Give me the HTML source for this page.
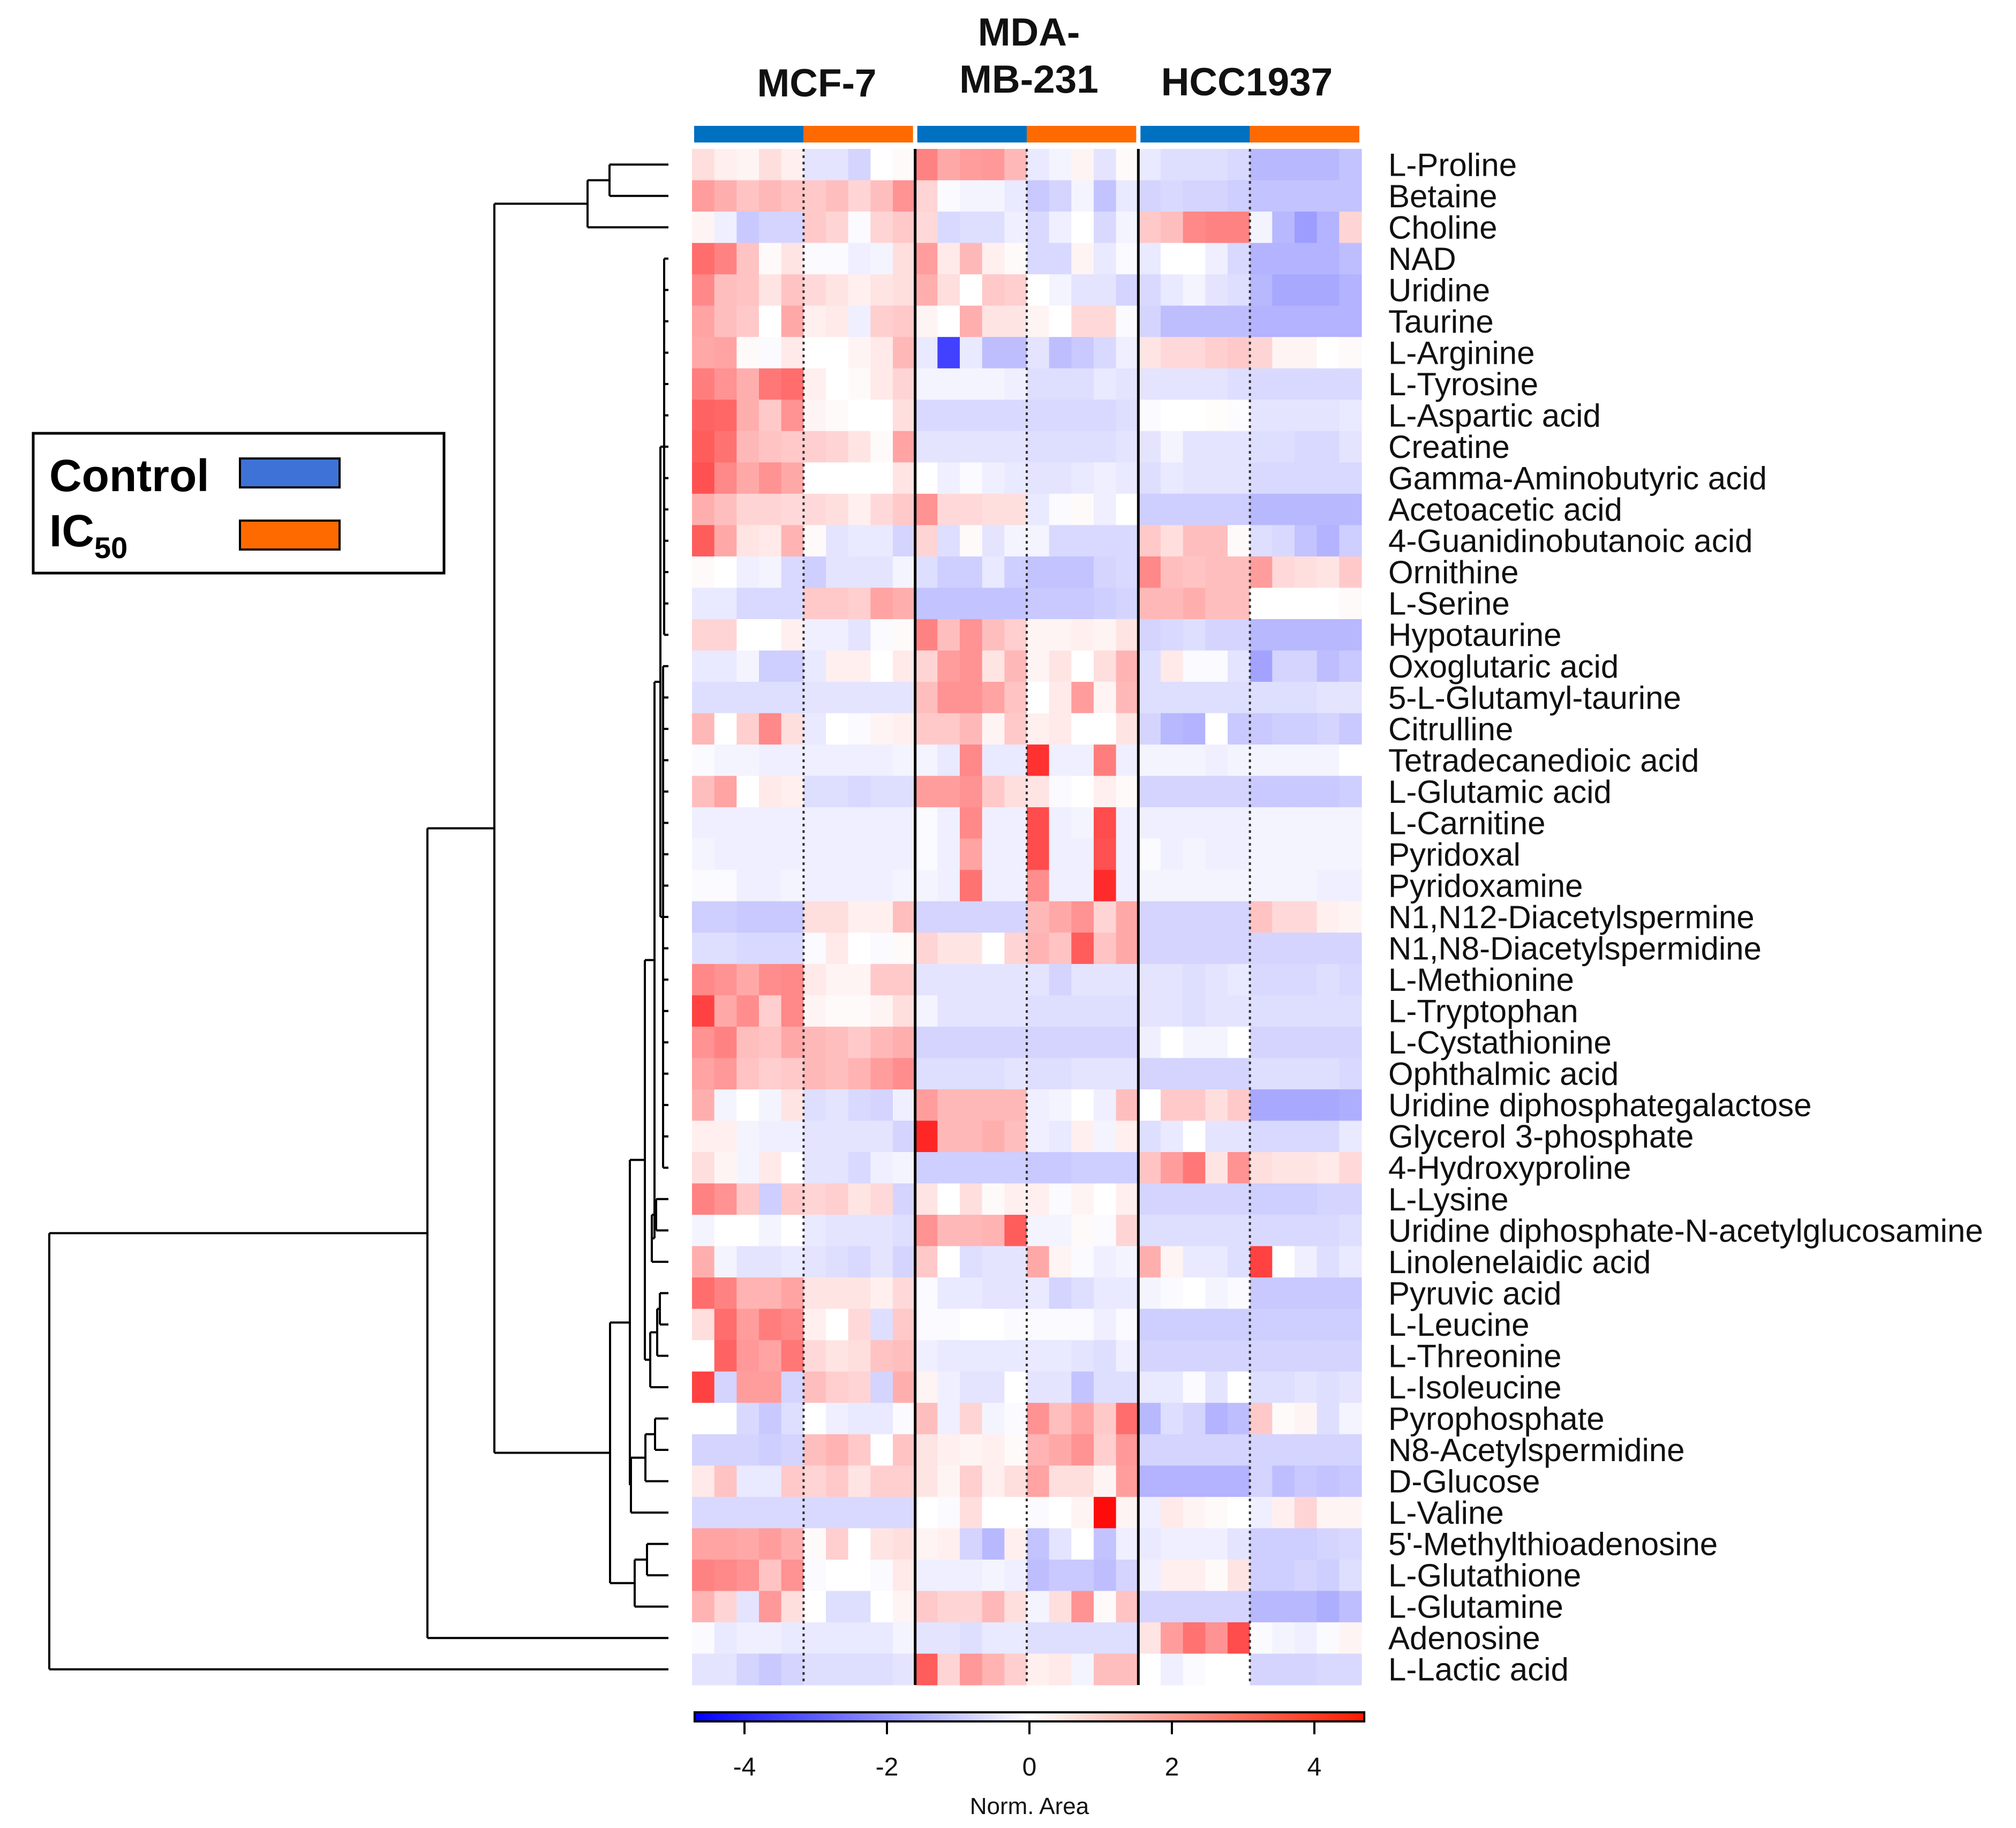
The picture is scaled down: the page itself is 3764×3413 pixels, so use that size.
<!DOCTYPE html>
<html><head><meta charset="utf-8"><style>
html,body{margin:0;padding:0;background:#fff;}
svg{display:block;font-family:"Liberation Sans",Arial,sans-serif;}
</style></head><body>
<svg id="chart" width="3764" height="3413" viewBox="0 0 3764 3413" xmlns="http://www.w3.org/2000/svg">
<rect width="3764" height="3413" fill="#fff"/>
<g id="titles" font-weight="bold" font-size="73" text-anchor="middle" fill="#111">
<text x="1525" y="180">MCF-7</text>
<text x="1921" y="85">MDA-</text>
<text x="1921" y="173">MB-231</text>
<text x="2328" y="178">HCC1937</text>
</g>
<g id="legend">
<rect x="62" y="809" width="767" height="261" fill="#fff" stroke="#000" stroke-width="5"/>
<text x="92" y="917" font-size="84" font-weight="bold" fill="#000">Control</text>
<rect x="448" y="856" width="186" height="54" fill="#3f72d6" stroke="#000" stroke-width="4"/>
<text x="92" y="1020" font-size="84" font-weight="bold" fill="#000">IC<tspan font-size="56" dy="22">50</tspan></text>
<rect x="448" y="972" width="186" height="54" fill="#ff6a00" stroke="#000" stroke-width="4"/>
</g>
<g id="groupbars"></g>
<g id="cells"></g>
<g id="seps"></g>
<g id="dendro" fill="none" stroke="#000" stroke-width="4"></g>
<g id="rowlabels" font-size="60" fill="#111"></g>
<g id="colorbar"></g>
</svg>
<script>
const rowNames = ["L-Proline","Betaine","Choline","NAD","Uridine","Taurine","L-Arginine","L-Tyrosine","L-Aspartic acid","Creatine","Gamma-Aminobutyric acid","Acetoacetic acid","4-Guanidinobutanoic acid","Ornithine","L-Serine","Hypotaurine","Oxoglutaric acid","5-L-Glutamyl-taurine","Citrulline","Tetradecanedioic acid","L-Glutamic acid","L-Carnitine","Pyridoxal","Pyridoxamine","N1,N12-Diacetylspermine","N1,N8-Diacetylspermidine","L-Methionine","L-Tryptophan","L-Cystathionine","Ophthalmic acid","Uridine diphosphategalactose","Glycerol 3-phosphate","4-Hydroxyproline","L-Lysine","Uridine diphosphate-N-acetylglucosamine","Linolenelaidic acid","Pyruvic acid","L-Leucine","L-Threonine","L-Isoleucine","Pyrophosphate","N8-Acetylspermidine","D-Glucose","L-Valine","5'-Methylthioadenosine","L-Glutathione","L-Glutamine","Adenosine","L-Lactic acid"];
const cellLines = ["MCF-7","MDA-MB-231","HCC1937"];
const groups = ["Control","IC50"];
const colorTicks = [-4,-2,0,2,4];
const values = [
[.6,.3,.2,.6,.3,-.5,-.5,-.8,0,.1,2.3,1.6,1.8,1.9,1.3,-.4,-.2,.2,-.5,.1,-.4,-.6,-.6,-.6,-.7,-1.3,-1.3,-1.3,-1.3,-1.1],
[1.8,1.5,1.1,1.3,1.1,1.0,1.2,.8,1.2,2.0,.8,-.1,-.2,-.2,-.4,-1.0,-.8,-.2,-1.1,-.4,-.8,-.7,-.8,-.8,-.9,-1.1,-1.1,-1.1,-1.1,-1.1],
[.2,-.3,-1.0,-.8,-.8,1.0,.8,-.1,.8,1.0,.7,-.7,-.6,-.6,-.3,-.7,-.3,0,-.7,-.2,1.0,1.2,2.2,2.3,2.3,-.2,-1.3,-1.8,-1.4,.8],
[2.7,2.3,1.1,.1,.5,-.1,-.1,-.3,-.2,.6,1.8,.4,1.3,.3,.1,-.7,-.7,.2,-.4,-.1,-.4,0,0,-.3,-.7,-1.4,-1.4,-1.4,-1.4,-1.2],
[2.2,1.2,1.1,.5,1.1,.7,.5,.3,.5,.6,1.5,.6,0,1.0,.9,0,-.2,-.5,-.5,-.8,-.7,-.4,-.2,-.5,-.6,-1.3,-1.6,-1.6,-1.6,-1.4],
[1.7,1.2,1.0,0,1.6,.3,.4,-.3,.9,1.0,.2,0,1.5,.5,.5,.2,0,.7,.7,-.1,-.8,-1.2,-1.2,-1.2,-1.2,-1.4,-1.4,-1.4,-1.4,-1.4],
[1.6,1.7,.1,-.1,.4,0,0,.2,.4,1.3,-.4,-3.5,-.4,-1.2,-1.2,-.5,-1.2,-1.0,-.7,-.3,.5,.7,.7,.9,1.0,.8,.2,.2,0,.1],
[2.4,2.0,1.5,2.5,2.7,.3,0,.1,.4,.8,-.2,-.2,-.2,-.2,-.3,-.6,-.6,-.6,-.4,-.5,-.5,-.5,-.5,-.5,-.6,-.7,-.7,-.7,-.7,-.7],
[2.9,2.8,1.5,1.0,2.0,.2,.1,0,0,.6,-.7,-.7,-.7,-.7,-.7,-.7,-.7,-.7,-.7,-.6,-.1,0,0,.05,-.05,-.5,-.5,-.5,-.5,-.4],
[3.0,2.6,1.3,1.1,1.0,.9,.8,.5,.1,1.7,-.5,-.5,-.5,-.5,-.5,-.6,-.6,-.6,-.6,-.5,-.5,-.2,-.5,-.5,-.5,-.6,-.6,-.7,-.7,-.5],
[3.2,2.2,1.6,2.0,1.6,0,0,0,0,.5,0,-.3,-.1,-.3,-.4,-.5,-.5,-.4,-.3,-.4,-.6,-.4,-.5,-.5,-.5,-.7,-.7,-.7,-.7,-.7],
[1.5,1.2,.8,.8,.7,.7,.6,.3,.7,1.0,2.0,.7,.7,.6,.6,-.4,-.1,.1,-.3,0,-.9,-.9,-.9,-.9,-.9,-1.3,-1.3,-1.3,-1.3,-1.3],
[3.0,1.6,.5,.4,1.4,.1,-.5,-.4,-.4,-.8,.8,-.6,.1,-.5,-.2,-.2,-.7,-.7,-.7,-.7,1.0,.6,1.2,1.2,.1,-.6,-.7,-1.1,-1.4,-.9],
[.1,0,-.3,-.2,-.7,-.9,-.5,-.5,-.5,-.2,-.6,-.9,-.9,-.4,-.9,-1.1,-1.1,-1.1,-.8,-.7,2.2,1.2,1.1,1.2,1.2,1.8,.7,.6,.5,1.0],
[-.4,-.4,-.7,-.7,-.7,1.0,1.0,.9,1.7,1.5,-1.1,-1.1,-1.1,-1.1,-1.1,-1.0,-1.0,-1.0,-.9,-.8,1.3,1.3,1.5,1.2,1.2,0,0,0,0,.1],
[.8,.8,0,0,.3,-.3,-.3,-.5,-.1,.1,2.3,1.2,2.0,1.2,.9,.2,.2,.3,.2,.5,-.8,-.7,-.6,-.8,-.8,-1.3,-1.3,-1.3,-1.3,-1.3],
[-.4,-.4,-.2,-.9,-.9,-.4,.3,.3,0,.4,.8,1.8,2.0,.5,1.3,.2,.5,0,.6,1.4,-.6,.4,-.1,-.1,-.5,-1.7,-.8,-.8,-1.2,-1.0],
[-.6,-.6,-.6,-.6,-.6,-.5,-.5,-.5,-.5,-.5,1.2,2.0,2.0,1.7,1.1,0,.4,1.8,.2,1.3,-.6,-.6,-.6,-.6,-.6,-.6,-.6,-.6,-.5,-.5],
[1.3,0,.9,2.2,.6,-.4,0,-.1,.2,.3,1.0,1.0,1.3,.2,1.0,.3,.4,0,0,.5,-.8,-1.3,-1.4,0,-1.0,-1.0,-.9,-.9,-.8,-1.0],
[-.1,-.2,-.2,-.3,-.3,-.3,-.3,-.3,-.3,-.2,-.2,-.4,2.2,-.4,-.4,3.8,-.3,-.3,2.4,-.3,-.2,-.2,-.2,-.3,-.2,-.2,-.2,-.2,-.2,0],
[1.2,1.7,0,.4,.3,-.6,-.6,-.7,-.6,-.6,1.8,1.8,2.0,1.0,.6,.5,-.1,0,.3,.1,-.8,-.8,-.8,-.8,-.8,-1.0,-1.0,-1.0,-1.0,-.9],
[-.3,-.3,-.3,-.3,-.3,-.3,-.3,-.3,-.3,-.3,-.1,-.3,2.2,-.3,-.3,3.3,-.3,-.2,3.3,-.3,-.3,-.3,-.3,-.3,-.3,-.2,-.2,-.2,-.2,-.2],
[-.2,-.3,-.3,-.3,-.3,-.3,-.3,-.3,-.3,-.3,-.1,-.3,1.7,-.3,-.3,3.3,-.3,-.3,3.2,-.3,-.1,-.3,-.2,-.3,-.3,-.2,-.2,-.2,-.2,-.2],
[-.1,-.1,-.3,-.3,-.2,-.3,-.3,-.3,-.3,-.2,-.2,-.3,2.6,-.3,-.3,2.1,-.3,-.3,3.9,-.3,-.2,-.2,-.2,-.2,-.2,-.2,-.2,-.2,-.3,-.3],
[-.9,-.9,-1.0,-1.0,-1.0,.6,.6,.3,.3,1.2,-.8,-.8,-.8,-.8,-.8,1.3,1.6,2.0,.8,1.6,-.8,-.8,-.8,-.8,-.8,1.1,.7,.7,.3,.2],
[-.6,-.6,-.7,-.7,-.7,-.1,.4,0,-.1,.1,.8,.5,.5,0,.8,1.4,1.1,3.0,1.1,1.6,-.8,-.8,-.8,-.8,-.8,-.8,-.8,-.8,-.8,-.8],
[2.2,2.0,1.6,2.1,2.2,.4,.2,.2,1.0,1.0,-.5,-.5,-.5,-.5,-.5,-.5,-.8,-.5,-.5,-.5,-.5,-.5,-.6,-.5,-.4,-.7,-.7,-.7,-.6,-.7],
[3.5,1.6,2.1,.9,2.2,.2,.1,.1,.2,.6,-.2,-.5,-.5,-.5,-.5,-.6,-.6,-.6,-.6,-.6,-.5,-.5,-.6,-.5,-.5,-.6,-.6,-.6,-.6,-.6],
[2.0,2.3,1.2,1.1,1.6,1.3,1.2,1.0,1.3,1.5,-.8,-.8,-.8,-.8,-.8,-.8,-.8,-.8,-.8,-.8,-.3,0,-.2,-.2,0,-.8,-.8,-.8,-.8,-.8],
[1.7,1.9,1.1,.9,1.0,1.3,1.2,1.4,1.8,2.1,-.6,-.6,-.6,-.6,-.5,-.6,-.6,-.5,-.5,-.5,-.8,-.8,-.8,-.8,-.8,-.6,-.6,-.6,-.6,-.7],
[1.5,-.2,0,-.2,.5,-.6,-.5,-.7,-.8,-.3,1.8,1.3,1.3,1.3,1.3,-.3,-.2,0,-.3,1.2,0,1.0,1.0,.6,1.0,-1.6,-1.6,-1.6,-1.6,-1.5],
[.3,.3,-.2,-.3,-.3,-.5,-.5,-.5,-.5,-.8,4.0,1.3,1.3,1.5,1.2,-.3,-.4,.3,-.2,.3,-.6,-.4,0,-.5,-.5,-.7,-.7,-.7,-.7,-.4],
[.6,.2,-.2,.4,0,-.5,-.5,-.7,-.3,-.2,-.9,-.9,-.9,-.9,-.9,-1.0,-1.0,-.9,-.9,-.9,1.1,1.8,2.5,.5,2.0,.6,.5,.5,.4,.7],
[2.3,2.0,1.0,-.9,1.0,.8,.9,.5,.7,-.8,.5,0,.6,.1,.3,.3,-.1,.2,0,.3,-.8,-.8,-.8,-.8,-.8,-.9,-.9,-.9,-.8,-.8],
[-.2,0,0,-.2,0,-.4,-.5,-.5,-.5,-.6,2.0,1.3,1.3,1.4,3.0,-.2,-.2,.1,-.1,.8,-.6,-.6,-.6,-.6,-.6,-.7,-.7,-.7,-.7,-.6],
[1.5,-.2,-.5,-.5,-.4,-.5,-.6,-.7,-.5,-.8,1.0,0,-.6,-.5,-.5,1.6,.2,-.1,-.3,-.2,1.5,.2,-.4,-.4,-.6,3.5,0,-.3,-.6,-.4],
[2.7,2.3,1.4,1.4,1.7,.5,.5,.5,.3,.7,-.1,-.4,-.4,-.5,-.5,-.4,-.8,-.6,-.4,-.4,-.2,-.1,0,-.2,-.1,-1.0,-1.0,-1.0,-1.0,-1.0],
[.6,2.7,1.8,2.4,2.2,.3,0,.7,-.6,1.0,-.1,-.1,0,0,-.1,-.1,-.1,-.1,-.3,-.1,-.9,-.9,-.9,-.9,-.9,-.9,-.9,-.9,-.9,-.9],
[0,2.9,1.9,1.7,2.5,.7,.5,.6,1.1,1.2,-.3,-.4,-.4,-.4,-.4,-.4,-.4,-.5,-.6,-.3,-.8,-.8,-.8,-.8,-.8,-.8,-.8,-.8,-.8,-.8],
[3.5,-.8,1.8,1.8,-.8,1.2,.9,.8,-.8,1.5,.2,-.3,-.5,-.5,0,-.5,-.5,-1.1,-.6,-.6,-.4,-.4,-.1,-.5,0,-.6,-.6,-.5,-.6,-.5],
[0,0,-.7,-1.0,-.6,0,-.3,-.4,-.4,-.1,1.2,-.3,.8,-.2,-.1,2.0,1.2,1.7,1.0,2.7,-1.3,-.6,-.8,-1.4,-1.2,1.0,.1,.2,-.6,-.2],
[-.8,-.8,-.8,-.9,-.8,1.2,1.4,1.0,0,1.1,.5,.3,.2,.3,.1,1.4,1.6,2.0,.9,1.9,-.8,-.8,-.8,-.8,-.8,-.8,-.8,-.8,-.8,-.8],
[.4,1.1,-.4,-.4,1.0,.8,1.0,.5,.9,.9,.5,.2,.9,.3,.6,1.7,.6,.6,.2,1.8,-1.4,-1.4,-1.4,-1.4,-1.4,-.8,-1.2,-1.0,-1.1,-1.0],
[-.7,-.7,-.7,-.7,-.7,-.7,-.7,-.7,-.7,-.7,0,-.1,.6,0,0,-.1,0,.2,4.5,.2,-.3,.4,.2,.1,0,-.3,.3,.8,.2,.2],
[1.7,1.7,1.6,1.8,1.5,.1,.9,0,.5,.6,.2,.3,-.8,-1.3,.3,-1.1,-.5,0,-1.1,-.3,-.4,-.3,-.3,-.3,-.5,-.9,-.9,-.9,-.8,-.7],
[2.3,2.2,2.0,1.1,2.0,-.1,0,0,-.1,.4,-.3,-.3,-.3,-.2,-.3,-1.2,-1.0,-1.0,-1.2,-.8,-.3,.3,.3,.1,.5,-.9,-.9,-.8,-.9,-.6],
[1.4,.8,-.5,1.9,.6,0,-.6,-.6,0,.2,1.0,.8,.8,1.3,.6,-.2,.6,2.0,.1,1.1,-.8,-.8,-.8,-.8,-.8,-1.3,-1.3,-1.3,-1.5,-1.2],
[-.1,-.4,-.3,-.3,-.4,-.4,-.4,-.4,-.4,-.2,-.5,-.5,-.6,-.4,-.4,-.6,-.6,-.6,-.6,-.6,.5,1.8,2.6,2.0,3.3,-.1,-.2,-.3,-.1,.2],
[-.5,-.5,-.8,-1.0,-.8,-.6,-.6,-.6,-.6,-.5,3.0,.8,1.9,1.4,.9,.3,.4,-.2,1.2,1.2,0,-.3,-.1,0,0,-.8,-.8,-.8,-.7,-.7]
];

const NS = "http://www.w3.org/2000/svg";
const HX0 = 1292, HX1 = 2542, HY0 = 278, HY1 = 3146;
const nCols = values[0].length, nRows = rowNames.length;
const cw = (HX1 - HX0) / nCols, rh = (HY1 - HY0) / nRows;
const colX = c => HX0 + c * cw;
const rowY = r => HY0 + r * rh;
const VMAX = 4.7;
function color(v){
  const t = Math.min(1, Math.abs(v) / VMAX);
  const k = Math.round(255 * (1 - t));
  return v >= 0 ? `rgb(255,${k},${k})` : `rgb(${k},${k},255)`;
}
function mk(tag, attrs, parent){
  const e = document.createElementNS(NS, tag);
  for (const k in attrs) e.setAttribute(k, attrs[k]);
  parent.appendChild(e);
  return e;
}

const gb = document.getElementById('groupbars');
cellLines.forEach((cl, i) => {
  groups.forEach((g, j) => {
    const c0 = i * 10 + j * 5;
    const r = mk('rect', {x: colX(c0) + (j === 0 ? 4 : 0), y: 235, width: cw * 5 - 4, height: 31, fill: j === 0 ? '#0070c0' : '#ff6a00'}, gb);
    
    
  });
});

const cg = document.getElementById('cells');
for (let r = 0; r < nRows; r++) {
  for (let c = 0; c < nCols; c++) {
    const e = mk('rect', {x: colX(c).toFixed(2), y: rowY(r).toFixed(2), width: (cw + 0.6).toFixed(2), height: (rh + 0.6).toFixed(2), fill: color(values[r][c])}, cg);
    
    
  }
}

const sg = document.getElementById('seps');
[10, 20].forEach(c => {
  const l = mk('line', {x1: colX(c), x2: colX(c), y1: HY0, y2: HY1, stroke: '#000', 'stroke-width': 5}, sg);
  
  
});
[5, 15, 25].forEach(c => {
  const l = mk('line', {x1: colX(c), x2: colX(c), y1: HY0, y2: HY1, stroke: '#333', 'stroke-width': 4, 'stroke-dasharray': '5,7'}, sg);
  
  
});

const rl = document.getElementById('rowlabels');
rowNames.forEach((n, r) => {
  const t = mk('text', {x: 2592, y: (rowY(r) + rh / 2 + 21).toFixed(1)}, rl);
  t.textContent = n;
  
  
});

const range = (a, b) => { const o = []; for (let i = a; i <= b; i++) o.push(i); return o; };
const tree = {x: 92, ch: [
  {x: 798, ch: [
    {x: 923, ch: [
      {x: 1097, ch: [{x: 1138, ch: [0, 1]}, 2]},
      {x: 1139, ch: [
        {x: 1176, ch: [
          {x: 1204, ch: [
            {x: 1222, ch: [
              {x: 1233, ch: [{x: 1240, ch: range(3, 15)}, {x: 1238, ch: range(16, 32)}]},
              {x: 1217, ch: [{x: 1225, ch: [33, 34]}, 35]}
            ]},
            {x: 1214, ch: [{x: 1227, ch: [{x: 1232, ch: [36, 37]}, 38]}, 39]}
          ]},
          {x: 1178, ch: [{x: 1205, ch: [{x: 1223, ch: [40, 41]}, 42]}, 43]}
        ]},
        {x: 1185, ch: [{x: 1208, ch: [44, 45]}, 46]}
      ]}
    ]},
    47
  ]},
  48
]};
const LEAFX = 1248;
const dg = document.getElementById('dendro');
function draw(node){
  if (typeof node === 'number') return {x: LEAFX, y: rowY(node) + rh / 2};
  const pts = node.ch.map(draw);
  const ys = pts.map(p => p.y);
  const y0 = Math.min(...ys), y1 = Math.max(...ys);
  let d = `M${node.x},${y0}L${node.x},${y1}`;
  pts.forEach(p => { d += `M${node.x},${p.y}L${p.x},${p.y}`; });
  const path = mk('path', {d: d}, dg);
  
  
  return {x: node.x, y: (y0 + y1) / 2};
}
draw(tree);

const cb = document.getElementById('colorbar');
const defs = mk('defs', {}, cb);
const grad = mk('linearGradient', {id: 'cbg', x1: 0, x2: 1, y1: 0, y2: 0}, defs);
[['0', '#0000ff'], ['0.5', '#ffffff'], ['1', '#ff1a00']].forEach(s => mk('stop', {offset: s[0], 'stop-color': s[1]}, grad));
const CB0 = 1922, CBU = 133;
const cbx = v => CB0 + v * CBU;
const bar = mk('rect', {x: cbx(-VMAX), y: 3197, width: cbx(VMAX) - cbx(-VMAX), height: 17, fill: 'url(#cbg)', stroke: '#000', 'stroke-width': 4}, cb);


colorTicks.forEach(v => {
  const l = mk('line', {x1: cbx(v), x2: cbx(v), y1: 3214, y2: 3238, stroke: '#000', 'stroke-width': 4}, cb);
  
  
  const t = mk('text', {x: cbx(v), y: 3315, 'font-size': 48, 'text-anchor': 'middle', fill: '#111'}, cb);
  t.textContent = String(v);
  
  
});
const ttl = mk('text', {x: CB0, y: 3387, 'font-size': 44, 'text-anchor': 'middle', fill: '#111'}, cb);
ttl.textContent = 'Norm. Area';


</script>
</body></html>
